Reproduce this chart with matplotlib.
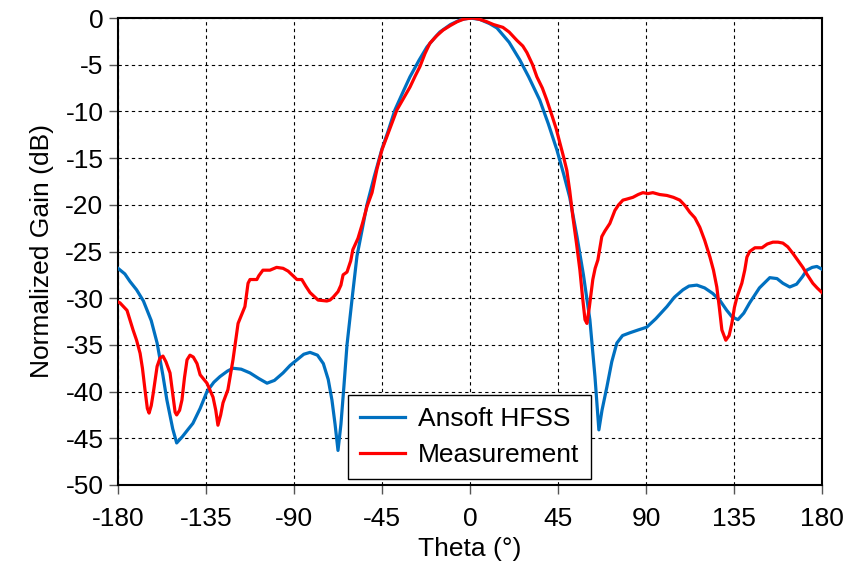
import matplotlib
matplotlib.use("Agg")
import matplotlib.pyplot as plt

plt.rcParams['font.family'] = ['Liberation Sans', 'DejaVu Sans']

hfss_theta = [-180, -176.5, -173.9, -170.5, -167, -163, -160, -157, -155, -152, -150, -147, -144, -141.7, -138, -134.5,
              -131, -127.9, -124, -121.2, -117, -112.5, -108, -103.8, -100, -95.6, -92, -88.5, -85,
              -81.8, -78, -75, -72.5, -70.6, -69, -67.5, -66, -64.5, -62.9, -60, -57.8, -55, -52.7,
              -49, -45, -42, -38.4, -34, -30.7, -26, -22, -18, -15.4, -10, -5, 0, 5, 10, 13.8, 20,
              25.5, 30, 35.7, 40, 44.4, 48, 51, 54.7, 58, 61.3, 63.9, 65.9, 67.5, 70, 72.5, 75.1, 78,
              81.8, 86, 90.4, 95, 100.7, 104.5, 108.9, 112, 116, 120, 124.2, 128, 131.3, 134, 137, 140,
              143, 148, 153.3, 157, 160, 163.5, 167, 170, 172.2, 175, 177.4, 180]
hfss_gain = [-26.8, -27.4, -28.2, -29.1, -30.3, -32.4, -34.8, -38.3, -40.9, -44.0, -45.5, -44.8, -44.0, -43.4, -41.8, -40.0,
             -39.0, -38.4, -37.8, -37.5, -37.6, -38.0, -38.6, -39.1, -38.8, -38.0, -37.2, -36.6, -36.0,
             -35.8, -36.1, -37.0, -38.7, -40.9, -43.5, -46.3, -43.5, -39.5, -35.0, -29.5, -25.5, -22.5, -20.0,
             -17.0, -14.0, -12.2, -9.85, -7.8, -6.3, -4.5, -3.1, -2.1, -1.5, -0.7, -0.2, 0.0, -0.15, -0.6, -1.07, -2.6,
             -4.5, -6.3, -8.8, -11.3, -14.1, -16.8, -19.2, -23.4, -27.5, -32.3, -38.4, -44.1, -42.0, -39.5, -36.8, -34.8, -34.0,
             -33.7, -33.4, -33.1, -32.2, -30.9, -29.9, -29.1, -28.7, -28.6, -28.9, -29.5, -30.3, -31.3, -32.0, -32.3, -31.6,
             -30.5, -28.9, -27.8, -27.9, -28.4, -28.8, -28.5, -27.7, -27.0, -26.7, -26.6, -26.9]

meas_theta = [-180, -179, -175.4, -172.3, -170.5, -168.7, -167.5, -166.2, -165, -164.1, -163, -162, -160,
              -158.5, -157, -155.5, -153.4, -151.8, -150.8, -150, -148.5, -147.3, -146, -144.7, -143.2,
              -141.5, -139.6, -138, -134.5, -131.4, -130, -128.9, -127.5, -126.3, -123.8, -121.2, -118.6,
              -115.1, -113.5, -112.5, -109, -108, -105.9, -102.3, -98.9, -95.6, -93, -91, -88.5, -86, -84,
              -81.8, -77.7, -73.2, -71.6, -70, -67.5, -66, -64.9, -62.9, -61, -59.9, -57.3, -55, -52.7,
              -50.1, -47.6, -45, -42.5, -40, -37.4, -34, -30.7, -28, -25.6, -23, -20.5, -17, -13.8, -10,
              -6.6, -3, 1.5, 5, 8.6, 12, 16.8, 20, 24, 27, 29.1, 32, 34.2, 37, 39.3, 42, 44, 46, 48, 49.5,
              51, 52.6, 54.5, 56.2, 57.5, 58.8, 59.8, 61, 62.8, 64, 65.4, 67.4, 69, 71.5, 74.1, 76, 78.2,
              80, 83.3, 86, 88.4, 91, 93.5, 97, 100.7, 104, 107.3, 110, 112.4, 115, 117.5, 120, 122.7,
              124.5, 126.2, 127.5, 128.8, 130.8, 132.5, 133.9, 135.2, 136.5, 139, 140.5, 141.6, 143,
              145.7, 149.3, 152, 154.9, 157.5, 160, 162.5, 165.1, 167.5, 170.2, 172.5, 175.3, 177.5, 180]
meas_gain = [-30.4, -30.5, -31.3, -33.4, -34.5, -35.9, -37.5, -39.8, -41.8, -42.3, -41.5, -40.2, -37.3,
             -36.4, -36.2, -36.8, -38.0, -40.6, -42.2, -42.5, -42.0, -40.9, -38.5, -36.6, -36.1,
             -36.3, -37.0, -38.2, -39.1, -40.6, -42.0, -43.6, -42.5, -41.2, -39.8, -36.6, -32.7,
             -30.9, -28.4, -28.0, -28.0, -27.6, -27.0, -27.0, -26.7, -26.8, -27.1, -27.5, -28.0, -28.0, -28.7,
             -29.4, -30.2, -30.3, -30.2, -29.9, -29.3, -28.6, -27.5, -27.2, -26.0, -24.8, -23.6, -22.0, -20.2,
             -18.7, -16.2, -14.1, -12.7, -11.3, -9.85, -8.6, -7.4, -6.2, -5.2, -3.8, -2.7, -1.9, -1.3, -0.8,
             -0.4, -0.1, 0.0, -0.15, -0.4, -0.7, -1.0, -1.5, -2.4, -3.0, -3.7, -5.0, -6.3, -7.5, -8.8, -10.5, -11.8, -13.4, -15.0, -16.3,
             -18.5, -21.3, -24.2, -27.0, -29.8, -32.3, -32.7, -31.0, -28.0, -26.8, -25.9, -23.4, -22.8, -22.0, -20.6, -20.0, -19.5,
             -19.4, -19.2, -18.9, -18.7, -18.8, -18.7, -18.9, -19.0, -19.2, -19.5, -20.1, -20.8, -21.4, -22.4, -23.8, -25.6,
             -27.0, -28.8, -31.0, -33.4, -34.5, -34.0, -32.7, -31.0, -29.9, -28.4, -27.0, -25.6, -25.0,
             -24.6, -24.6, -24.2, -24.0, -24.0, -24.1, -24.5, -25.2, -25.9, -26.7, -27.5, -28.4, -28.9, -29.4]

x_ticks = [-180, -135, -90, -45, 0, 45, 90, 135, 180]
y_ticks = [0, -5, -10, -15, -20, -25, -30, -35, -40, -45, -50]
series_labels = ["Ansoft HFSS", "Measurement"]

fig = plt.figure(figsize=(8.57, 5.67), dpi=100)
ax = fig.add_axes([118/857, 82/567, 704/857, 467/567])

ax.plot(hfss_theta, hfss_gain, color='#0070C0', lw=2.3, label=series_labels[0], zorder=3)
ax.plot(meas_theta, meas_gain, color='#FF0000', lw=2.3, label=series_labels[1], zorder=4)

ax.set_xlim(-180, 180)
ax.set_ylim(-50, 0)
ax.set_xticks(x_ticks)
ax.set_yticks(y_ticks)
ax.set_xticklabels([str(t) for t in x_ticks])
ax.set_yticklabels([str(t) for t in y_ticks])
ax.grid(True, color='black', linestyle=(0, (3, 3)), linewidth=0.8)
ax.set_axisbelow(True)
for s in ax.spines.values():
    s.set_linewidth(1.5)
    s.set_color('black')
ax.tick_params(axis='both', direction='out', length=6.5, width=1.0, labelsize=19, color='#555555')
ax.tick_params(axis='x', pad=9)
ax.tick_params(axis='y', pad=4)
ax.set_xlabel("Theta (°)", fontsize=19, labelpad=5)
ax.set_ylabel("Normalized Gain (dB)", fontsize=19, labelpad=8)

leg = ax.legend(loc='lower left', bbox_to_anchor=(0.327, 0.013), fontsize=19, frameon=True,
                fancybox=False, framealpha=1, edgecolor='black', handlelength=1.7,
                borderpad=0.45, labelspacing=0.45, handletextpad=0.5, borderaxespad=0)
leg.get_frame().set_linewidth(1.0)

fig.savefig("out.png", dpi=100)
